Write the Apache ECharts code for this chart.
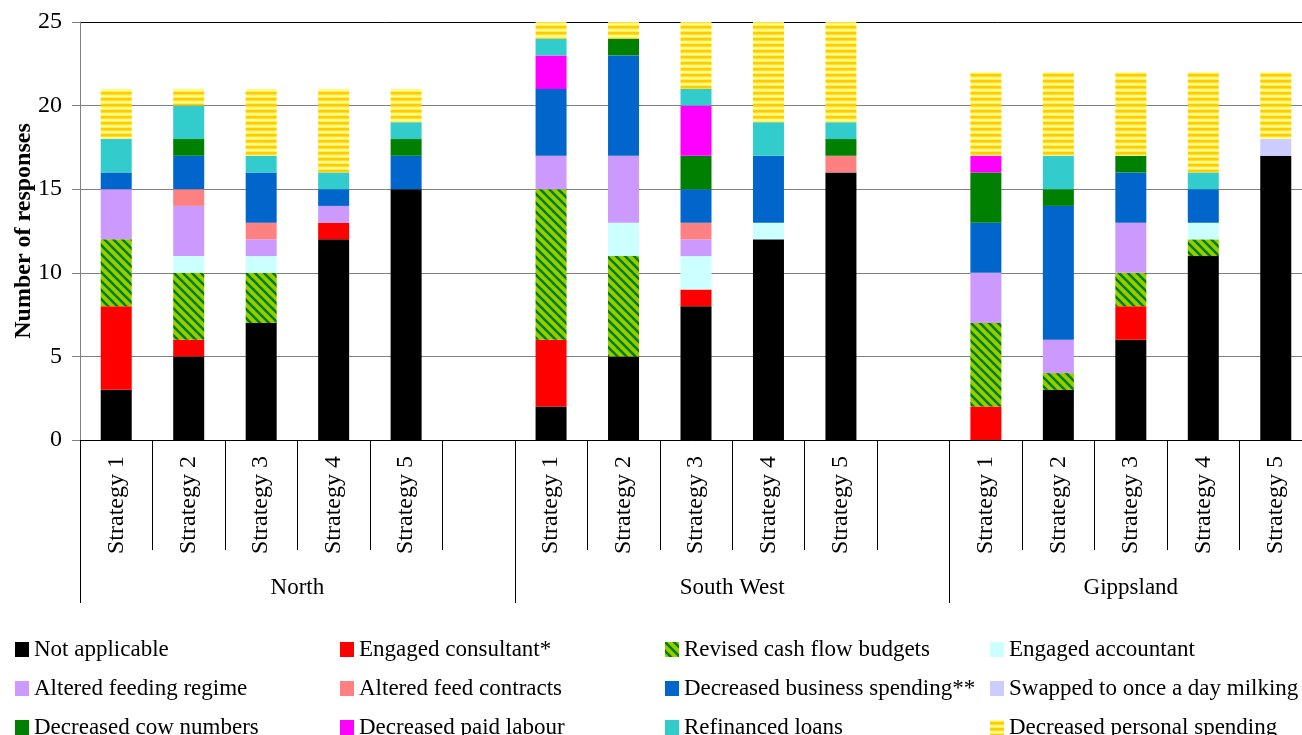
<!DOCTYPE html>
<html>
<head>
<meta charset="utf-8">
<script src="https://cdn.jsdelivr.net/npm/echarts@6/dist/echarts.min.js"></script>
<style>
  html, body { margin: 0; padding: 0; background: #fff; }
  #chart { width: 1302px; height: 735px; }
</style>
</head>
<body>
<div id="chart"></div>
<script>
// Slots along the x axis: five strategies per region, with a blank slot between regions
const categories = [
  'Strategy 1', 'Strategy 2', 'Strategy 3', 'Strategy 4', 'Strategy 5', '',
  'Strategy 1', 'Strategy 2', 'Strategy 3', 'Strategy 4', 'Strategy 5', '',
  'Strategy 1', 'Strategy 2', 'Strategy 3', 'Strategy 4', 'Strategy 5'
];
const regions = ['North', 'South West', 'Gippsland'];
const regionSlots = [6, 6, 5];
const yTicks = [0, 5, 10, 15, 20, 25];

// Responses per strategy (null marks the blank slots)
const notApplicable        = [3, 5, 7, 12, 15, null, 2, 5, 8, 12, 16, null, 0, 3, 6, 11, 17];
const engagedConsultant    = [5, 1, 0, 1, 0, null, 4, 0, 1, 0, 0, null, 2, 0, 2, 0, 0];
const revisedCashFlow      = [4, 4, 3, 0, 0, null, 9, 6, 0, 0, 0, null, 5, 1, 2, 1, 0];
const engagedAccountant    = [0, 1, 1, 0, 0, null, 0, 2, 2, 1, 0, null, 0, 0, 0, 1, 0];
const alteredFeeding       = [3, 3, 1, 1, 0, null, 2, 4, 1, 0, 0, null, 3, 2, 3, 0, 0];
const alteredFeedContracts = [0, 1, 1, 0, 0, null, 0, 0, 1, 0, 1, null, 0, 0, 0, 0, 0];
const decreasedBusiness    = [1, 2, 3, 1, 2, null, 4, 6, 2, 4, 0, null, 3, 8, 3, 2, 0];
const onceADayMilking      = [0, 0, 0, 0, 0, null, 0, 0, 0, 0, 0, null, 0, 0, 0, 0, 1];
const decreasedCowNumbers  = [0, 1, 0, 0, 1, null, 0, 1, 2, 0, 1, null, 3, 1, 1, 0, 0];
const decreasedPaidLabour  = [0, 0, 0, 0, 0, null, 2, 0, 3, 0, 0, null, 1, 0, 0, 0, 0];
const refinancedLoans      = [2, 2, 1, 1, 1, null, 1, 0, 1, 2, 1, null, 0, 2, 0, 1, 0];
const decreasedPersonal    = [3, 1, 4, 5, 2, null, 1, 1, 4, 6, 6, null, 5, 5, 5, 6, 4];

const FONT = "'Liberation Serif', 'Times New Roman', serif";

// Diagonal green hatch fill
function hatchPattern() {
  const n = 9;
  const c = document.createElement('canvas');
  c.width = n; c.height = n;
  const g = c.getContext('2d');
  g.fillStyle = '#99CC00';
  g.fillRect(0, 0, n, n);
  g.strokeStyle = '#008000';
  g.lineWidth = 2.6;
  for (const off of [-n, 0, n]) {
    g.beginPath();
    g.moveTo(off - 1, -1);
    g.lineTo(off + n + 1, n + 1);
    g.stroke();
  }
  return { image: c, repeat: 'repeat' };
}

// Horizontal gold / pale-yellow stripes
function stripePattern() {
  const rows = ['#FFFF99', '#FFEE55', '#FFCC00', '#FFCC00', '#FFDD33', '#FFF780'];
  const c = document.createElement('canvas');
  c.width = 4; c.height = rows.length;
  const g = c.getContext('2d');
  rows.forEach((col, i) => { g.fillStyle = col; g.fillRect(0, i, 4, 1); });
  return { image: c, repeat: 'repeat' };
}

const seriesDefs = [
  ['Not applicable', notApplicable, '#000000'],
  ['Engaged consultant*', engagedConsultant, '#FF0000'],
  ['Revised cash flow budgets', revisedCashFlow, hatchPattern()],
  ['Engaged accountant', engagedAccountant, '#CCFFFF'],
  ['Altered feeding regime', alteredFeeding, '#CC99FF'],
  ['Altered feed contracts', alteredFeedContracts, '#FF8080'],
  ['Decreased business spending**', decreasedBusiness, '#0066CC'],
  ['Swapped to once a day milking', onceADayMilking, '#CCCCFF'],
  ['Decreased cow numbers', decreasedCowNumbers, '#008000'],
  ['Decreased paid labour', decreasedPaidLabour, '#FF00FF'],
  ['Refinanced loans', refinancedLoans, '#33CCCC'],
  ['Decreased personal spending', decreasedPersonal, stripePattern()]
];

// Region boundaries and centres in slot units
const bounds = [0];
regionSlots.forEach(s => bounds.push(bounds[bounds.length - 1] + s));
const centres = regionSlots.map((s, i) => bounds[i] + s / 2);
const totalSlots = bounds[bounds.length - 1];

// Legend laid out in four columns of three rows
const legendCols = [15, 340, 665, 990];
const legends = legendCols.map((x, col) => ({
  orient: 'vertical',
  left: x,
  top: 638,
  width: 310,
  height: 140,
  itemWidth: 14,
  itemHeight: 15,
  itemGap: 16,
  padding: 0,
  selectedMode: false,
  icon: 'rect',
  textStyle: { fontFamily: FONT, fontSize: 23, color: '#000' },
  data: [0, 1, 2].map(r => seriesDefs[r * 4 + col][0])
}));

const chart = echarts.init(document.getElementById('chart'), null, { renderer: 'canvas' });
chart.setOption({
  animation: false,
  backgroundColor: '#fff',
  legend: legends,
  grid: {
    left: 80, top: 22, width: 1232, height: 418,
    containLabel: false, outerBoundsMode: 'none'
  },
  xAxis: [
    {
      type: 'category',
      data: categories,
      axisLine: { lineStyle: { color: '#000', width: 1 } },
      axisTick: { show: true, interval: 0, length: 110, lineStyle: { color: '#000' } },
      axisLabel: {
        interval: 0, rotate: 90, margin: 16,
        fontFamily: FONT, fontSize: 24, color: '#000'
      },
      splitLine: { show: false }
    },
    {
      type: 'value',
      position: 'bottom',
      min: 0,
      max: totalSlots,
      axisLine: { show: false },
      axisTick: { show: true, customValues: bounds, length: 163, lineStyle: { color: '#000' } },
      axisLabel: {
        show: true, customValues: centres, margin: 136,
        fontFamily: FONT, fontSize: 23, color: '#000',
        formatter: v => regions[centres.indexOf(v)] || ''
      },
      splitLine: { show: false }
    }
  ],
  yAxis: {
    type: 'value',
    min: 0,
    max: 25,
    interval: 5,
    name: 'Number of responses',
    nameLocation: 'middle',
    nameRotate: 90,
    nameGap: 44,
    nameMoveOverlap: false,
    nameTextStyle: { fontFamily: FONT, fontSize: 24, fontWeight: 'bold', color: '#000' },
    axisLine: { show: true, lineStyle: { color: '#808080' } },
    axisTick: { show: true, length: 8, lineStyle: { color: '#808080' } },
    axisLabel: {
      margin: 18, fontFamily: FONT, fontSize: 24, color: '#000',
      formatter: v => (yTicks.indexOf(v) >= 0 ? String(v) : '')
    },
    splitLine: {
      show: true, showMinLine: true, showMaxLine: true,
      lineStyle: { color: ['#000', '#808080', '#808080', '#808080', '#808080', '#000'], width: 1 }
    }
  },
  series: seriesDefs.map(([name, data, color]) => ({
    name,
    type: 'bar',
    stack: 'responses',
    barWidth: 31,
    data,
    itemStyle: { color },
    emphasis: { disabled: true }
  }))
});
</script>
</body>
</html>
